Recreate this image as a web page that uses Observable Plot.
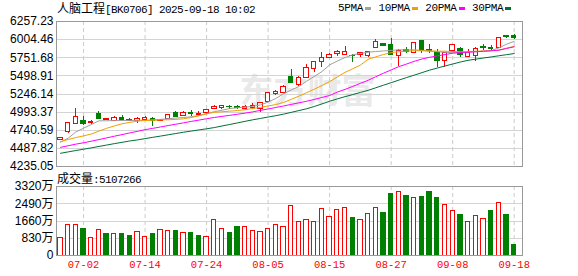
<!DOCTYPE html>
<html><head><meta charset="utf-8">
<script src="https://cdn.jsdelivr.net/npm/d3@7"></script>
<script src="https://cdn.jsdelivr.net/npm/@observablehq/plot@0.6"></script>
<style>
body{margin:0;background:#fff;}
#wrap{position:relative;width:578px;height:276px;overflow:hidden;background:#fff;}
#wrap svg{position:absolute;left:0;}
.t{position:absolute;white-space:nowrap;color:#000;line-height:14px;}
.cjk{font-family:"Noto Sans CJK SC",sans-serif;font-size:12px;}
.asc{font-family:"Liberation Mono",monospace;font-size:11px;letter-spacing:-0.6px;}
.leg{display:flex;align-items:center;font-family:"Liberation Mono",monospace;font-size:11px;letter-spacing:-0.35px;}
.sw{display:inline-block;width:6px;height:3px;margin-left:2px;margin-right:7.5px;}
</style></head>
<body><div id="wrap"></div>
<script>
const title = "人脑工程[BK0706] 2025-09-18 10:02";
const volLabel = "成交量:5107266";
const watermark = "东方财富";
const dates = ["06-27","06-30","07-01","07-02","07-03","07-04","07-07","07-08","07-09","07-10",
  "07-11","07-14","07-15","07-16","07-17","07-18","07-21","07-22","07-23","07-24",
  "07-25","07-28","07-29","07-30","07-31","08-01","08-04","08-05","08-06","08-07",
  "08-08","08-11","08-12","08-13","08-14","08-15","08-18","08-19","08-20","08-21",
  "08-22","08-25","08-26","08-27","08-28","08-29","09-01","09-02","09-03","09-04",
  "09-05","09-08","09-09","09-10","09-11","09-12","09-15","09-16","09-17","09-18"];
const opens = [4609,4713,4831,4872,4840,4965,4886,4872,4910,4868, 4872,4886,4900,4868,4900,4983,4934,4979,4955,4979,
  5038,5056,5070,5062,5043,5052,5043,5135,5250,5264, 5482,5371,5475,5599,5696,5752,5807,5790,5782,5786,
  5782,5890,5939,5925,5782,5865,5821,5984,5860,5814, 5713,5842,5879,5768,5782,5901,5893,5886,6050,6059];
const highs = [4646,4847,5038,4928,4876,5001,4910,4928,4946,4900, 4914,4928,4914,4890,4962,4997,4997,5011,4997,5034,
  5087,5084,5084,5090,5090,5108,5128,5267,5292,5367, 5592,5489,5662,5697,5818,5814,5851,5911,5793,5828,
  5842,6004,5948,6026,5863,5893,5966,5987,5935,5865, 5821,5935,5890,5863,5890,5935,5925,6036,6068,6081];
const lows = [4595,4699,4817,4803,4821,4900,4872,4868,4872,4858, 4840,4882,4793,4858,4893,4914,4928,4937,4934,4965,
  5025,5025,5025,5025,5018,5029,4987,5128,5232,5253, 5398,5357,5458,5551,5620,5741,5772,5779,5680,5759,
  5752,5874,5907,5779,5634,5810,5817,5814,5810,5613, 5610,5828,5759,5763,5696,5851,5849,5876,6018,6004];
const closes = [4627,4840,4928,4831,4862,4904,4900,4910,4886,4884, 4900,4914,4872,4882,4951,4928,4979,4965,4962,5020,
  5063,5080,5062,5048,5062,5080,5117,5256,5277,5350, 5405,5464,5610,5689,5742,5784,5830,5836,5772,5814,
  5828,5966,5921,5796,5842,5838,5962,5849,5842,5713, 5814,5925,5786,5818,5876,5887,5880,6031,6041,6029];
const ma5 = [4574,4630,4717,4770,4820,4872,4873,4875,4876,4878, 4879,4880,4885,4892,4901,4911,4918,4929,4946,4973,
  5000,5020,5043,5054,5063,5073,5094,5133,5184,5249, 5302,5350,5425,5491,5559,5652,5706,5754,5792,5811,
  5829,5838,5847,5854,5862,5862,5862,5854,5844,5836, 5829,5821,5825,5831,5836,5843,5850,5889,5940,5980];
const ma10 = [4581,4612,4639,4662,4688,4728,4768,4800,4831,4850, 4868,4876,4880,4885,4887,4892,4900,4918,4943,4968,
  4991,4998,5007,5015,5027,5044,5059,5079,5099,5128, 5171,5216,5264,5313,5364,5418,5484,5548,5598,5649,
  5730,5764,5797,5824,5835,5843,5850,5849,5847,5844, 5842,5839,5836,5836,5842,5846,5851,5857,5885,5911];
const ma20 = [4502,4524,4547,4566,4588,4610,4634,4657,4680,4703, 4725,4749,4767,4786,4806,4825,4844,4864,4882,4901,
  4919,4934,4948,4964,4979,4997,5018,5037,5058,5079, 5101,5123,5145,5170,5198,5225,5273,5310,5352,5395,
  5437,5487,5536,5582,5628,5664,5702,5734,5758,5778, 5796,5815,5825,5829,5835,5842,5849,5857,5881,5904];
const ma30 = [4419,4439,4458,4476,4495,4515,4534,4554,4572,4591, 4606,4624,4642,4659,4677,4695,4713,4729,4745,4761,
  4778,4800,4821,4843,4865,4886,4905,4925,4944,4965, 4990,5015,5040,5072,5108,5145,5178,5209,5238,5268,
  5297,5333,5369,5404,5440,5475,5509,5544,5579,5608, 5637,5664,5692,5716,5732,5748,5763,5779,5795,5810];
const volumes = [850,1480,1480,1255,850,1210,1015,1050,1015,920, 1110,900,1015,1210,1160,1160,1060,1060,920,900,
  1720,1290,1080,1350,1350,1190,1110,1255,1450,1385, 2365,1595,1720,1595,2255,1870,2205,2300,1785,1720,
  1980,2300,2045,2945,3075,2850,2785,2800,3040,2750, 2415,2160,1930,1595,1915,1770,2125,2545,1930,511];
const volUp = [1,1,1,0,1,1,0,1,0,0, 1,1,0,1,1,0,1,0,0,1, 1,1,0,0,1,1,1,1,1,1,
  1,1,1,1,1,1,1,1,0,1, 1,1,0,0,1,0,1,0,0,0, 1,1,0,1,1,1,0,1,0,0];
const yTicks = [6257.23,6004.46,5751.68,5498.91,5246.14,4993.37,4740.59,4487.82,4235.05];
const volTicks = [0,830,1660,2490,3320];
const xTickLabels = ["07-02","07-14","07-24","08-05","08-15","08-27","09-08","09-18"];
const maNames = ["5PMA","10PMA","20PMA","30PMA"];

const RED = "#ff0000", GREEN = "#008000";
const maColors = ["#a0a0a0","#f0a000","#ff00ff","#00703a"];
const maSeries = [ma5, ma10, ma20, ma30];
const idx = d3.range(dates.length);
const candles = idx.map(i => ({i, o: opens[i], h: highs[i], l: lows[i], c: closes[i]}));
const upC = candles.filter(d => d.c >= d.o), dnC = candles.filter(d => d.c < d.o);
const vols = idx.map(i => ({i, v: volumes[i], up: volUp[i] === 1}));
const tickIdx = xTickLabels.map(s => dates.indexOf(s));
const xDomain = [-0.52, 60.08];
const W = 0.29, VW = 0.28;
const axisFont = "Liberation Sans, Arial, Noto Sans CJK SC, sans-serif";

const main = Plot.plot({
  width: 578, height: 172, marginTop: 21, marginBottom: 6, marginLeft: 56, marginRight: 56,
  style: {background: "transparent", overflow: "visible"},
  x: {type: "linear", domain: xDomain, axis: null},
  y: {domain: [yTicks[yTicks.length - 1], yTicks[0]], label: null},
  marks: [
    Plot.text([watermark], {text: d => d, frameAnchor: "middle", dx: 18, dy: -2, fontSize: 34, fontWeight: "bold", fill: "#e9e9e9", fontFamily: "Noto Sans CJK SC"}),
    Plot.ruleY(yTicks.slice(1, -1), {stroke: "#d4d4d4", shapeRendering: "crispEdges"}),
    Plot.ruleX(tickIdx, {stroke: "#cccccc", strokeDasharray: "4,3"}),
    Plot.axisY(yTicks, {tickSize: 0, tickPadding: 3, tickFormat: d => d.toFixed(2), fontSize: 12, fontFamily: axisFont, color: "#000", label: null}),
    Plot.ruleX(upC, {x: "i", y1: "l", y2: "h", stroke: RED, shapeRendering: "crispEdges"}),
    Plot.ruleX(dnC, {x: "i", y1: "l", y2: "h", stroke: GREEN, shapeRendering: "crispEdges"}),
    Plot.rect(upC, {x1: d => d.i - W, x2: d => d.i + W, y1: "o", y2: "c", fill: "#fff", stroke: RED, shapeRendering: "crispEdges"}),
    Plot.rect(dnC, {x1: d => d.i - W, x2: d => d.i + W, y1: "o", y2: "c", fill: GREEN, stroke: GREEN, shapeRendering: "crispEdges"}),
    ...maSeries.map((s, k) => Plot.line(idx, {x: d => d, y: d => s[d], stroke: maColors[k], strokeWidth: 1})),
    Plot.frame({stroke: "#999", shapeRendering: "crispEdges"})
  ]
});

const vol = Plot.plot({
  width: 578, height: 106, marginTop: 16, marginBottom: 21, marginLeft: 56, marginRight: 56,
  style: {background: "transparent", overflow: "visible"},
  x: {type: "linear", domain: xDomain},
  y: {domain: [0, volTicks[volTicks.length - 1]], label: null},
  marks: [
    Plot.ruleY(volTicks.slice(1, -1), {stroke: "#d4d4d4", shapeRendering: "crispEdges"}),
    Plot.ruleX(tickIdx, {stroke: "#cccccc", strokeDasharray: "4,3"}),
    Plot.rect(vols.filter(d => d.up), {x1: d => d.i - VW, x2: d => d.i + VW, y1: () => 0, y2: "v", fill: "#fff", stroke: RED, shapeRendering: "crispEdges"}),
    Plot.rect(vols.filter(d => !d.up), {x1: d => d.i - VW, x2: d => d.i + VW, y1: () => 0, y2: "v", fill: GREEN, stroke: GREEN, shapeRendering: "crispEdges"}),
    Plot.axisY(volTicks, {tickSize: 0, tickPadding: 3, tickFormat: d => d === 0 ? "0" : d + "万", fontSize: 12, fontFamily: axisFont, color: "#000", label: null}),
    Plot.axisX(tickIdx, {tickSize: 0, tickPadding: 5, tickFormat: i => dates[i], fontSize: 10.5, fontFamily: "Liberation Mono, monospace", color: RED, label: null}),
    Plot.frame({stroke: "#999", shapeRendering: "crispEdges"})
  ]
});

const wrap = document.getElementById("wrap");
main.style.top = "0px";
vol.style.top = "170px";
wrap.appendChild(main);
wrap.appendChild(vol);

function mixed(str, left, top) {
  const div = document.createElement("div");
  div.className = "t";
  div.style.left = left + "px";
  div.style.top = top + "px";
  str.split(/([\u4e00-\u9fff]+)/).filter(s => s.length).forEach(s => {
    const sp = document.createElement("span");
    sp.className = /[\u4e00-\u9fff]/.test(s) ? "cjk" : "asc";
    sp.textContent = s;
    div.appendChild(sp);
  });
  wrap.appendChild(div);
}
mixed(title, 57, 1);
mixed(volLabel, 57, 171);

const leg = document.createElement("div");
leg.className = "t leg";
leg.style.left = "338px";
leg.style.top = "1px";
maNames.forEach((n, k) => {
  const t = document.createElement("span");
  t.textContent = n;
  const s = document.createElement("span");
  s.className = "sw";
  s.style.background = maColors[k];
  leg.appendChild(t);
  leg.appendChild(s);
});
wrap.appendChild(leg);
</script></body></html>
